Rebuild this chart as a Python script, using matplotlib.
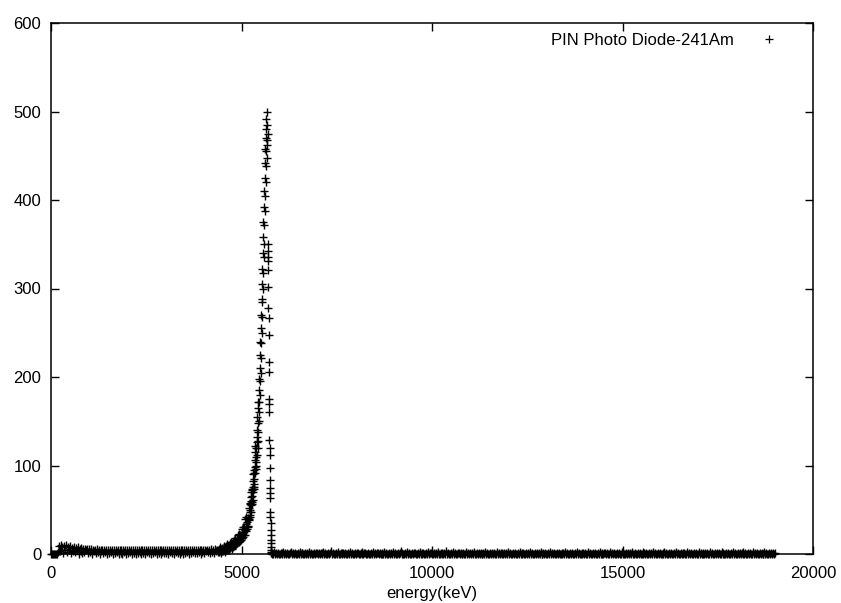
import numpy as np
import matplotlib
matplotlib.use("Agg")
import matplotlib.pyplot as plt

plt.rcParams['font.family'] = ['Liberation Sans', 'DejaVu Sans']

# ---------------- data ----------------
# low-energy continuum, 0 .. 4375 keV in 25 keV channels
low_counts = [
    0, 0, 0, 0, 0, 0, 0, 2,
    9, 3, 10, 5, 8, 1, 9, 4, 10, 2, 8, 5, 9, 1, 7, 3,
    8, 2, 7, 4, 8, 0, 6, 3, 7, 1, 6, 2, 6, 4, 6, 1,
    6, 2, 6, 0, 5, 3, 5, 1, 6, 2, 5, 0, 5, 3, 5, 1,
    5, 2, 5, 0, 4, 1, 5, 2, 5, 0, 4, 1, 4, 2, 5, 0,
    4, 1, 4, 0, 5, 2, 4, 0, 4, 1, 4, 2, 5, 0, 4, 1,
    4, 0, 4, 1, 4, 2, 5, 0, 4, 1, 4, 0, 4, 2, 4, 1,
    4, 0, 4, 1, 5, 2, 4, 0, 4, 1, 4, 0, 5, 2, 4, 1,
    4, 1, 4, 0, 5, 2, 4, 1, 4, 0, 4, 2, 5, 1, 4, 0,
    4, 2, 4, 0, 5, 1, 4, 2, 4, 0, 5, 1, 4, 2, 5, 1,
    5, 1, 5, 2, 4, 0, 5, 2, 5, 1, 5, 3, 5, 2, 5, 1,
    6, 2, 5, 1, 6, 3, 5, 2,
]
low_E = 25 * np.arange(len(low_counts))

# low-energy tail of the alpha peak, 4400 .. 5190 keV (10 keV channels)
tail_counts = [
    6, 2, 5, 3, 8, 4, 1, 6, 3, 5,
    7, 3, 6, 9, 4, 5, 2, 8, 6, 4,
    9, 5, 7, 11, 4, 8, 6, 10, 5, 8,
    12, 7, 10, 14, 6, 11, 9, 13, 8, 12,
    16, 9, 13, 18, 10, 14, 11, 17, 12, 15,
    21, 13, 17, 23, 14, 19, 15, 22, 16, 20,
    28, 18, 24, 31, 19, 25, 21, 30, 22, 27,
    39, 26, 34, 42, 28, 36, 30, 41, 32, 38,
]
tail_E = 4400 + 10 * np.arange(len(tail_counts))

# steep rise, 5200 .. 5395 keV (5 keV channels)
rise_counts = [
    52, 40, 48, 58, 44, 50, 42, 56, 47, 60,
    70, 55, 64, 74, 57, 66, 59, 72, 61, 76,
    90, 70, 82, 95, 73, 85, 76, 92, 79, 98,
    115, 92, 106, 122, 96, 110, 100, 120, 104, 126,
]
rise_E = 5200 + 5 * np.arange(len(rise_counts))

# peak column, 5400 .. 5685 keV (5 keV channels)
peak_counts = [
    140, 112, 132, 155, 120, 148, 128, 165, 138, 172,
    150, 185, 160, 198, 172, 210, 180, 225, 195, 240,
    205, 255, 222, 270, 238, 288, 250, 305, 268, 322,
    285, 340, 300, 358, 318, 375, 336, 392, 350, 410,
    372, 425, 388, 442, 405, 458, 420, 470, 438, 480,
    455, 492, 468, 500, 462, 485, 448, 475,
]
peak_E = 5400 + 5 * np.arange(len(peak_counts))

# falling edge, 5690 .. 5790 keV
fall_E = [5690, 5693, 5696, 5699, 5702, 5705, 5708, 5711, 5714, 5717,
          5720, 5723, 5726, 5729, 5732, 5735, 5738, 5741, 5744, 5747,
          5750, 5753, 5756, 5759, 5762, 5765, 5768, 5771, 5774, 5777,
          5780, 5783, 5786, 5790]
fall_counts = [350, 342, 336, 331, 321, 302, 278, 267, 248, 217,
               206, 175, 170, 160, 129, 120, 112, 97, 84, 75,
               69, 63, 48, 42, 35, 27, 21, 16, 12, 8,
               5, 2, 1, 0]

# high-energy background, 5800 .. 19000 keV (25 keV channels), one digit per channel
high_digits = (
    "10201010011020101001201010010201100101020100101101"
    "01012010010130100102001011010010201001011001020110"
    "01001020101101001020100101020100101301001020100101"
    "10010201010010201100101020010101030100102010011010"
    "01002010101020010101001020100101010020101100101020"
    "10010100102010100101020100101010200101001020101001"
    "01001010201001010010201001010100201001010010201001"
    "10100201010010100201001010102001001010020101001010"
    "20100101001020100101001020100101010020101001010020"
    "10100101002010010101002010010100102010010101020100"
    "10100201010010100201001010101"
)
high_counts = [int(d) for d in high_digits]
high_E = 5800 + 25 * np.arange(len(high_counts))

series_label = "PIN Photo Diode-241Am"
x_label = "energy(keV)"
x_ticks = [0, 5000, 10000, 15000, 20000]
y_ticks = [0, 100, 200, 300, 400, 500, 600]

# ---------------- plot ----------------
energy = np.concatenate([low_E, tail_E, rise_E, peak_E, fall_E, high_E])
counts = np.concatenate([low_counts, tail_counts, rise_counts, peak_counts,
                         fall_counts, high_counts])

fig = plt.figure(figsize=(8.41, 6.03), dpi=100)
ax = fig.add_axes([51 / 841, 49 / 603, 762 / 841, 531 / 603])

ax.plot(energy, counts, ls='none', marker='+', ms=6.2, mew=1.0, color='black',
        clip_on=False, label=series_label)

ax.set_xlim(0, 20000)
ax.set_ylim(0, 600)
ax.set_xticks(x_ticks)
ax.set_yticks(y_ticks)
ax.tick_params(direction='in', length=6, width=1, top=True, right=True,
               labelsize=12, colors='black')
ax.tick_params(axis='x', pad=9)
ax.tick_params(axis='y', pad=7)
for s in ax.spines.values():
    s.set_linewidth(1.1)
    s.set_color('black')

ax.set_xlabel(x_label, fontsize=12, labelpad=3)

leg = ax.legend(loc='upper right', bbox_to_anchor=(786 / 841, 1 - 33 / 603),
                bbox_transform=fig.transFigure, frameon=False, markerfirst=False,
                fontsize=12, handlelength=2, handletextpad=1.1,
                borderpad=0, borderaxespad=0, numpoints=1)
for h in leg.legend_handles:
    h.set_markeredgewidth(0.9)
    h.set_markersize(6)

fig.savefig("out.png", dpi=100)
